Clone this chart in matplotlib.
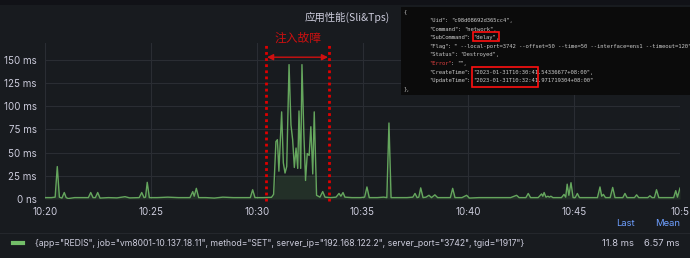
import numpy as np
import matplotlib
matplotlib.use('Agg')
import matplotlib.pyplot as plt
from matplotlib.patches import Rectangle

plt.rcParams['font.family'] = ['Inter', 'DejaVu Sans']

# minutes after 10:20 and latency in ms
minutes = [
    0.00, 0.30, 0.48, 0.58, 0.68, 0.80, 0.91, 1.00, 1.10, 1.40, 1.80, 2.05, 2.16, 2.27, 2.38,
    2.49, 2.60, 3.00, 3.40, 3.78, 4.00, 4.45, 4.57, 4.68, 4.75, 4.83, 4.93, 5.30, 5.80, 6.30,
    6.85, 6.98, 7.05, 7.15, 7.26, 7.60, 8.00, 8.40, 8.90, 9.30, 9.70, 9.81, 9.92, 10.30, 10.70,
    10.80, 10.91, 10.98, 11.05, 11.18, 11.26, 11.34, 11.42, 11.53, 11.62, 11.70, 11.78, 11.86,
    11.94, 12.00, 12.08, 12.14, 12.23, 12.31, 12.39, 12.48, 12.56, 12.65, 12.72, 12.83, 12.99,
    13.12, 13.23, 13.50, 13.75, 13.89, 13.98, 14.08, 14.17, 14.50, 14.90, 15.10, 15.21, 15.32,
    15.70, 16.00, 16.15, 16.25, 16.35, 16.70, 17.10, 17.38, 17.48, 17.58, 17.66, 17.75, 17.86,
    18.00, 18.14, 18.26, 18.42, 18.55, 18.90, 19.15, 19.26, 19.37, 19.70, 19.92, 20.05, 20.50,
    21.00, 21.50, 22.00, 22.28, 22.40, 22.72, 22.83, 22.94, 23.30, 23.46, 23.52, 23.58, 23.67,
    23.76, 23.83, 23.90, 24.00, 24.40, 24.52, 24.60, 24.67, 24.75, 24.85, 24.95, 25.05, 25.15,
    25.25, 25.70, 26.10, 26.22, 26.30, 26.38, 26.48, 26.70, 26.82, 26.93, 27.30, 27.40, 27.50,
    27.85, 27.95, 28.05, 28.48, 28.58, 28.68, 28.79, 28.89, 29.00, 29.25, 29.36, 29.70, 29.80,
    29.88, 30.00,
]
latency_ms = [
    1.5, 1.5, 2, 35, 2, 1, 7, 1.5, 0.5, 1.5, 1.5, 1.5, 7, 1.5, 1.5,
    7, 1, 1.5, 1.2, 2.5, 1.2, 1.5, 7, 1.5, 2, 18, 1.5, 1.5, 2, 1.5,
    1.5, 8, 3, 11.5, 1.5, 1.5, 1, 2, 1.5, 1.5, 1.5, 10, 1.5, 1.5, 1.8,
    5, 62, 64, 30, 94, 39, 28, 35, 145, 80, 64, 34, 55,
    33, 95, 33, 145, 70, 20, 49, 47, 78, 27, 94, 4, 2,
    8, 2, 1.5, 2, 6, 3, 7, 2, 1.5, 1.5, 2, 13, 1.5,
    1.5, 2, 1.5, 82, 1.5, 1.5, 1.5, 2, 6, 1.5, 2, 12, 1.5,
    2, 4, 1.5, 4.5, 1.5, 1.5, 1.5, 11.5, 1.5, 1.5, 4, 1, 1.5,
    1.5, 1.5, 1.5, 4, 1.5, 1.5, 6, 1.5, 1.5, 5.5, 3, 7, 2,
    3, 2, 3, 1.5, 1.5, 5, 2, 16, 4, 17.6, 1.5, 1.5, 6,
    1.5, 1.5, 1.5, 13, 3, 5, 1.5, 1.5, 12.5, 1.5, 1.5, 6, 1.5,
    1.5, 4.5, 1.5, 1.5, 3.5, 1.5, 1.5, 10, 1.5, 1.5, 1.5, 1.5, 9,
    2, 11.8,
]

tick_minutes = [0, 5, 10, 15, 20, 25, 30]
tick_labels = ['10:20', '10:25', '10:30', '10:35', '10:40', '10:45', '10:5']
y_ticks = [0, 25, 50, 75, 100, 125, 150]
y_labels = ['0 ns', '25 ms', '50 ms', '75 ms', '100 ms', '125 ms', '150 ms']

fault_start = 10.44
fault_end = 13.42

series_name = ('{app="REDIS", job="vm8001-10.137.18.11", method="SET", '
               'server_ip="192.168.122.2", server_port="3742", tgid="1917"}')
last_value = '11.8 ms'
mean_value = '6.57 ms'

json_keys = ['Uid', 'Command', 'SubCommand', 'Flag', 'Status', 'Error', 'CreateTime', 'UpdateTime']
json_values = ['"c98d08692d365cc4",', '"network",', '"delay",',
               '" --local-port=3742 --offset=50 --time=50 --interface=ens1 --timeout=120",',
               '"Destroyed",', '"",', '"2023-01-31T10:30:41.54336677+08:00",',
               '"2023-01-31T10:32:41.971719304+08:00"']

W, H = 690, 258
BG = '#181b1f'
TXT = '#ccccdc'
GRID = '#2a2d33'
GREEN = '#73bf69'
RED = '#e00000'


def fx(x):
    return x / W


def fy(y):
    return 1 - y / H


fig = plt.figure(figsize=(W / 100, H / 100), dpi=100, facecolor=BG)
fig.patches.append(Rectangle((0, fy(5)), 1, 5 / H, transform=fig.transFigure,
                             facecolor='#111217', edgecolor='none', zorder=0))

ax = fig.add_axes([fx(45), fy(199), (680 - 45) / W, (199 - 43.3) / H])
ax.set_facecolor(BG)
ax.set_xlim(0, 30)
ax.set_ylim(0, 168)
for s in ax.spines.values():
    s.set_visible(False)

x = np.array(minutes)
y = np.array(latency_ms)
ax.fill_between(x, 0, np.minimum(y, 26), color=GREEN, alpha=0.13, lw=0)
ax.plot(x, y, color=GREEN, lw=1.0, alpha=0.85)

ax.set_xticks(tick_minutes)
ax.set_xticklabels(tick_labels)
ax.set_yticks(y_ticks)
ax.set_yticklabels(y_labels)
ax.tick_params(colors=TXT, labelsize=7, length=0, pad=6)
ax.grid(True, color=GRID, lw=0.8)
ax.set_axisbelow(True)

# fault window markers
for fx_ in (fault_start, fault_end):
    ax.plot([fx_, fx_], [-2, 166], color=RED, lw=2, ls=(0, (1, 1.2)), clip_on=False)
ax.annotate('', xy=(fault_start + 0.05, 153), xytext=(fault_end - 0.05, 153),
            arrowprops=dict(arrowstyle='<|-|>', color='#d01010', lw=1,
                            mutation_scale=9, shrinkA=0, shrinkB=0))
ax.text((fault_start + fault_end) / 2, 166, '注入故障', color='#cc1010', fontsize=8.5,
        ha='center', va='bottom', family=['Noto Sans CJK SC', 'DejaVu Sans'])

fig.text(fx(347), fy(17), '应用性能(Sli&Tps)', color=TXT, fontsize=7.5, ha='center',
         va='center', family=['Noto Sans CJK SC', 'DejaVu Sans'], weight='medium')

# legend
fig.lines.append(plt.Line2D([fx(13), fx(23)], [fy(243), fy(243)], color=GREEN, lw=3,
                            transform=fig.transFigure))
fig.text(fx(35), fy(243), series_name, color=TXT, fontsize=6.25, va='center')
fig.text(fx(625), fy(224), 'Last', color='#6e9fff', fontsize=6.8, ha='center', va='center')
fig.text(fx(668), fy(224), 'Mean', color='#6e9fff', fontsize=6.8, ha='center', va='center')
fig.text(fx(634), fy(243), last_value, color=TXT, fontsize=6.8, ha='right', va='center')
fig.text(fx(679), fy(243), mean_value, color=TXT, fontsize=6.8, ha='right', va='center')
fig.lines.append(plt.Line2D([0, 1], [fy(233), fy(233)], color='#24272c', lw=0.8,
                            transform=fig.transFigure))

# json overlay
fig.patches.append(Rectangle((fx(401), fy(95)), 1, (95 - 7) / H, transform=fig.transFigure,
                             facecolor='#0b0b0b', edgecolor='none', zorder=5))
CW = 3.15
mono = dict(fontsize=4.0, family='DejaVu Sans Mono', va='center', zorder=6)
fig.text(fx(403), fy(12), '{', color='#c8c8c8', **mono)
fig.text(fx(403), fy(12 + 9 * 8.6), '},', color='#c8c8c8', **mono)
for i, (k, v) in enumerate(zip(json_keys, json_values)):
    ypos = 12 + (i + 1) * 8.6
    fig.text(fx(429), fy(ypos), '"%s"' % k, color='#e04040' if k == 'Error' else '#c8c8c8', **mono)
    fig.text(fx(429 + (len(k) + 2) * CW), fy(ypos), ':', color='#c8c8c8', **mono)
    fig.text(fx(429 + (len(k) + 4) * CW), fy(ypos), v, color='#c8c8c8', **mono)
for (x0, y0, x1, y1) in [(472.7, 32.3, 499.3, 40.7), (471.7, 66.7, 537.7, 87.3)]:
    fig.patches.append(Rectangle((fx(x0), fy(y1)), (x1 - x0) / W, (y1 - y0) / H,
                                 transform=fig.transFigure, facecolor='none',
                                 edgecolor='#ff1010', lw=1.2, zorder=7))

fig.savefig('out.png', dpi=100, facecolor=BG)
